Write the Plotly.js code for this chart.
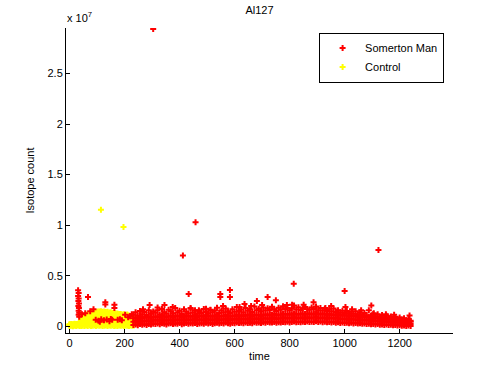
<!DOCTYPE html>
<html>
<head>
<meta charset="utf-8">
<script src="https://cdn.plot.ly/plotly-3.0.1.min.js"></script>
<style>
html,body{margin:0;padding:0;background:#fff;}
#chart{width:500px;height:374px;}
</style>
</head>
<body>
<div id="chart"></div>
<script>
// Values are in units of 1e7 (axis shows "x 10^7")
// ---- Somerton Man: main band (time and four stacked rows of readings)
const smTime = [232,240,248,256,264,272,280,288,296,304,312,320,328,336,344,352,360,368,376,384,392,400,408,416,424,432,440,448,456,464,472,480,488,496,504,512,520,528,536,544,552,560,568,576,584,592,600,608,616,624,632,640,648,656,664,672,680,688,696,704,712,720,728,736,744,752,760,768,776,784,792,800,808,816,824,832,840,848,856,864,872,880,888,896,904,912,920,928,936,944,952,960,968,976,984,992,1000,1008,1016,1024,1032,1040,1048,1056,1064,1072,1080,1088,1096,1104,1112,1120,1128,1136,1144,1152,1160,1168,1176,1184,1192,1200,1208,1216,1224,1232,1240];
const smRowA = [0.012,0.018,0.010,0.022,0.015,0.020,0.014,0.024,0.019,0.026,0.022,0.028,0.020,0.030,0.025,0.019,0.027,0.031,0.024,0.029,0.026,0.033,0.021,0.028,0.032,0.025,0.030,0.027,0.034,0.023,0.029,0.031,0.026,0.035,0.028,0.032,0.024,0.030,0.036,0.027,0.033,0.029,0.037,0.031,0.026,0.034,0.030,0.038,0.032,0.035,0.031,0.039,0.034,0.036,0.030,0.041,0.035,0.038,0.033,0.040,0.036,0.042,0.037,0.039,0.044,0.035,0.041,0.038,0.043,0.040,0.045,0.039,0.042,0.047,0.041,0.044,0.040,0.046,0.043,0.048,0.042,0.046,0.044,0.049,0.043,0.047,0.041,0.045,0.040,0.044,0.038,0.042,0.036,0.040,0.034,0.039,0.033,0.036,0.031,0.035,0.029,0.033,0.027,0.031,0.025,0.028,0.023,0.026,0.021,0.024,0.018,0.022,0.016,0.019,0.014,0.017,0.012,0.015,0.010,0.013,0.008,0.011,0.006,0.009,0.004,0.007,0.003];
const smRowB = [0.045,0.052,0.040,0.058,0.048,0.055,0.050,0.061,0.053,0.059,0.057,0.064,0.055,0.066,0.060,0.054,0.063,0.068,0.058,0.065,0.061,0.069,0.057,0.064,0.070,0.060,0.067,0.062,0.071,0.059,0.066,0.070,0.061,0.072,0.064,0.069,0.060,0.067,0.074,0.063,0.069,0.065,0.075,0.068,0.062,0.072,0.066,0.077,0.070,0.073,0.068,0.078,0.071,0.075,0.067,0.080,0.073,0.077,0.070,0.079,0.074,0.081,0.076,0.078,0.084,0.073,0.080,0.077,0.083,0.079,0.085,0.078,0.082,0.088,0.080,0.084,0.079,0.087,0.083,0.089,0.082,0.087,0.084,0.090,0.083,0.088,0.080,0.085,0.079,0.084,0.077,0.082,0.075,0.080,0.072,0.078,0.071,0.075,0.068,0.073,0.066,0.070,0.063,0.068,0.060,0.064,0.058,0.062,0.055,0.059,0.051,0.056,0.048,0.052,0.045,0.049,0.042,0.046,0.039,0.043,0.036,0.040,0.032,0.035,0.028,0.031,0.024];
const smRowC = [0.080,0.088,0.075,0.094,0.083,0.091,0.086,0.097,0.089,0.095,0.092,0.100,0.089,0.102,0.096,0.088,0.099,0.104,0.093,0.101,0.096,0.105,0.091,0.099,0.107,0.094,0.103,0.098,0.108,0.093,0.101,0.106,0.095,0.109,0.099,0.105,0.094,0.103,0.111,0.097,0.104,0.100,0.112,0.103,0.096,0.108,0.101,0.114,0.106,0.110,0.103,0.115,0.107,0.112,0.102,0.118,0.109,0.114,0.105,0.117,0.110,0.119,0.113,0.116,0.122,0.109,0.118,0.114,0.121,0.117,0.123,0.115,0.120,0.127,0.118,0.122,0.116,0.125,0.121,0.128,0.120,0.126,0.122,0.129,0.121,0.127,0.118,0.124,0.116,0.122,0.113,0.119,0.110,0.116,0.107,0.114,0.105,0.110,0.101,0.107,0.098,0.104,0.095,0.101,0.091,0.097,0.088,0.094,0.084,0.090,0.080,0.086,0.076,0.082,0.073,0.078,0.069,0.074,0.065,0.070,0.061,0.066,0.056,0.060,0.051,0.055,0.046];
const smRowD = [0.115,0.138,0.104,0.152,0.120,0.141,0.112,0.160,0.128,0.147,0.135,0.158,0.118,0.171,0.140,0.125,0.163,0.148,0.130,0.182,0.138,0.155,0.121,0.168,0.145,0.129,0.175,0.136,0.160,0.124,0.150,0.133,0.172,0.141,0.127,0.162,0.138,0.155,0.184,0.132,0.158,0.140,0.176,0.147,0.131,0.169,0.143,0.190,0.152,0.166,0.139,0.181,0.155,0.170,0.142,0.196,0.160,0.175,0.148,0.187,0.156,0.178,0.162,0.193,0.170,0.151,0.184,0.165,0.199,0.172,0.180,0.158,0.176,0.205,0.167,0.188,0.161,0.179,0.192,0.170,0.163,0.185,0.171,0.196,0.160,0.182,0.157,0.174,0.153,0.169,0.148,0.177,0.142,0.160,0.137,0.155,0.133,0.151,0.128,0.145,0.124,0.148,0.119,0.137,0.114,0.131,0.109,0.158,0.105,0.122,0.100,0.119,0.094,0.112,0.088,0.104,0.083,0.097,0.078,0.091,0.074,0.088,0.067,0.080,0.061,0.072,0.055];
// ---- Somerton Man: early readings (before 230 s)
const smEarlyTime = [31,33,31,33,32,34,32,34,33,35,33,35,67,130,130,163,163,87,57,75,202,45,95,105,115,125,135,145,155,175,183,190,110,150,213,220,226];
const smEarlyVal  = [0.356,0.330,0.300,0.275,0.250,0.225,0.200,0.180,0.155,0.135,0.115,0.095,0.290,0.237,0.215,0.214,0.180,0.170,0.130,0.148,0.115,0.120,0.065,0.055,0.070,0.060,0.068,0.050,0.065,0.066,0.070,0.060,0.045,0.072,0.090,0.100,0.120];
// ---- Somerton Man: isolated high readings
const smOutTime = [304,458,412,433,1123,815,1000,548,548,583,583,291,345,375,636,618,496,720,681,750,512,790,887,851,809,951,1097,1003,1027,1236,1106,558,267,320,440,470,660,700,930,1060,1150,1180];
const smOutVal  = [2.94,1.03,0.70,0.32,0.755,0.42,0.35,0.32,0.29,0.36,0.29,0.21,0.21,0.19,0.22,0.19,0.175,0.29,0.25,0.257,0.165,0.21,0.237,0.214,0.214,0.20,0.207,0.19,0.17,0.106,0.13,0.20,0.17,0.185,0.18,0.16,0.20,0.21,0.18,0.16,0.12,0.115];

// ---- Control: band (time and five stacked rows)
const ctTime = [0,6,12,18,24,30,36,42,48,54,60,66,72,78,84,90,96,102,108,114,120,126,132,138,144,150,156,162,168,174,180,186,192,198,204,210,216,222,228,234];
const ctRowA = [0.002,0.005,0.001,0.006,0.003,0.007,0.004,0.002,0.006,0.003,0.008,0.004,0.007,0.002,0.006,0.009,0.003,0.007,0.005,0.008,0.004,0.006,0.009,0.003,0.007,0.005,0.008,0.002,0.006,0.004,0.009,0.005,0.007,0.003,0.008,0.006,0.004,0.007,0.005,0.008];
const ctRowB = [0.010,0.012,0.009,0.013,0.011,0.014,0.012,0.020,0.025,0.028,0.030,0.032,0.031,0.034,0.035,0.036,0.035,0.038,0.037,0.039,0.038,0.037,0.036,0.035,0.036,0.034,0.033,0.034,0.032,0.031,0.032,0.030,0.031,0.029,0.030,0.028,0.027,0.025,0.023,0.020];
const ctRowC = [0.014,0.016,0.013,0.017,0.015,0.018,0.022,0.036,0.046,0.053,0.058,0.061,0.063,0.065,0.068,0.070,0.071,0.073,0.074,0.075,0.074,0.073,0.072,0.071,0.070,0.069,0.068,0.066,0.065,0.064,0.062,0.061,0.060,0.059,0.058,0.058,0.056,0.052,0.046,0.038];
const ctRowD = [0.017,0.019,0.016,0.020,0.018,0.021,0.030,0.052,0.068,0.079,0.086,0.090,0.094,0.097,0.101,0.105,0.106,0.109,0.111,0.111,0.110,0.109,0.107,0.105,0.104,0.103,0.101,0.099,0.097,0.096,0.093,0.091,0.089,0.088,0.087,0.087,0.084,0.078,0.068,0.056];
const ctRowE = [0.021,0.024,0.020,0.025,0.022,0.026,0.041,0.071,0.092,0.106,0.114,0.121,0.124,0.131,0.134,0.141,0.140,0.147,0.146,0.150,0.145,0.147,0.141,0.143,0.137,0.139,0.131,0.133,0.126,0.128,0.121,0.123,0.116,0.119,0.115,0.117,0.108,0.101,0.089,0.076];
const ctOutTime = [114,196];
const ctOutVal  = [1.153,0.982];

const xTicks = [0,200,400,600,800,1000,1200];
const yTicks = [0,0.5,1,1.5,2,2.5];
const yTickText = ['0','0.5','1','1.5','2','2.5'];

// build point lists
const smX = [], smY = [];
[smRowA, smRowB, smRowC, smRowD].forEach(row => { smTime.forEach((t,i)=>{ smX.push(t); smY.push(row[i]); }); });
smEarlyTime.forEach((t,i)=>{ smX.push(t); smY.push(smEarlyVal[i]); });
smOutTime.forEach((t,i)=>{ smX.push(t); smY.push(smOutVal[i]); });

const ctX = [], ctY = [];
[ctRowA, ctRowB, ctRowC, ctRowD, ctRowE].forEach(row => { ctTime.forEach((t,i)=>{ ctX.push(t); ctY.push(row[i]); }); });
ctOutTime.forEach((t,i)=>{ ctX.push(t); ctY.push(ctOutVal[i]); });

const FONT = 'Liberation Sans, Arial, Helvetica, sans-serif';

const traces = [
  {x: ctX, y: ctY, type:'scatter', mode:'markers', name:'Control', legendrank: 2,
   marker:{symbol:'cross', size:5, color:'#ffff00', line:{width:0}}},
  {x: smX, y: smY, type:'scatter', mode:'markers', name:'Somerton Man', legendrank: 1,
   marker:{symbol:'cross', size:5, color:'#ff0000', line:{width:0}}}
];

const layout = {
  width:500, height:374,
  paper_bgcolor:'#fff', plot_bgcolor:'#fff',
  margin:{l:66, r:47, t:28, b:41, pad:0},
  font:{family:FONT, size:11, color:'#000'},
  showlegend:true,
  title:{text:'Al127', x:0.519, xanchor:'center', y:0.972, yanchor:'middle', yref:'container', font:{family:FONT, size:11, color:'#000'}},
  xaxis:{range:[-13,1394], tickvals:xTicks, ticks:'inside', ticklen:4, tickcolor:'#000',
         showline:true, linecolor:'#000', linewidth:1, mirror:false, showgrid:false, zeroline:false,
         tickfont:{family:FONT, size:11, color:'#000'},
         title:{text:'time', standoff:4, font:{family:FONT, size:11, color:'#000'}}},
  yaxis:{range:[-0.066,2.95], tickvals:yTicks, ticktext:yTickText, ticks:'inside', ticklen:4, tickcolor:'#000',
         showline:true, linecolor:'#000', linewidth:1, mirror:false, showgrid:false, zeroline:false,
         tickfont:{family:FONT, size:11, color:'#000'},
         title:{text:'Isotope count', standoff:10, font:{family:FONT, size:11, color:'#000'}}},
  legend:{x:0.654, y:0.985, xanchor:'left', yanchor:'top', bordercolor:'#000', borderwidth:1, bgcolor:'#fff',
          font:{family:FONT, size:11, color:'#000'}, tracegroupgap:0, itemwidth:35},
  annotations:[
    {text:'x 10<sup>7</sup>', xref:'paper', yref:'paper', x:0, y:1, xanchor:'left', yanchor:'bottom', yshift:2, xshift:-1,
     showarrow:false, font:{family:FONT, size:11, color:'#000'}}
  ]
};

Plotly.newPlot('chart', traces, layout, {displayModeBar:false, staticPlot:true});
</script>
</body>
</html>
